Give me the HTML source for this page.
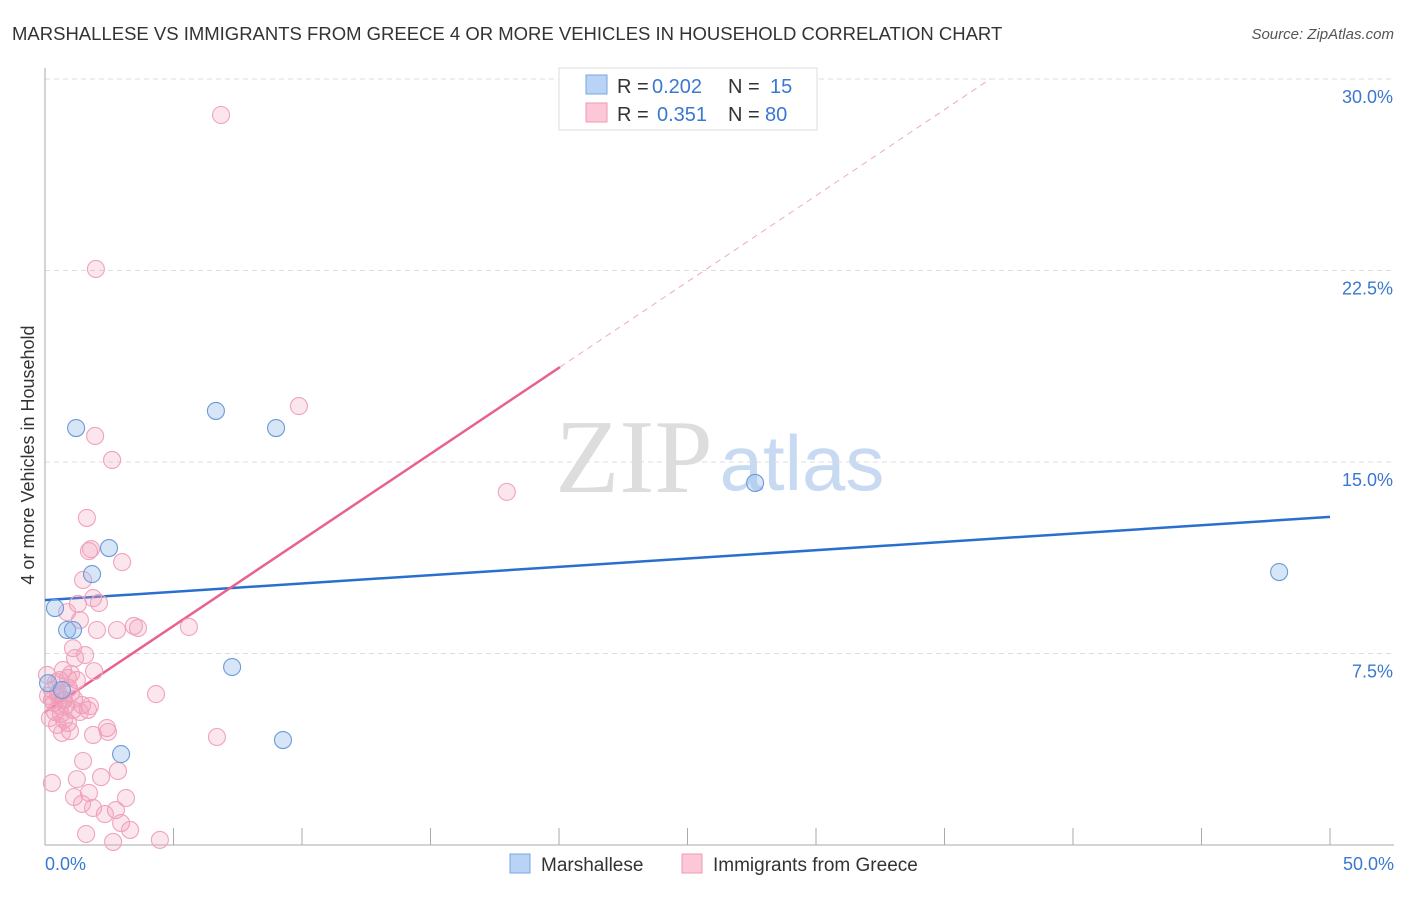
<!DOCTYPE html>
<html><head><meta charset="utf-8"><style>
body{margin:0;background:#fff;font-family:"Liberation Sans",sans-serif}
</style></head><body>
<svg width="1406" height="892" xmlns="http://www.w3.org/2000/svg" font-family="Liberation Sans, sans-serif">
<text x="12" y="40" font-size="18.5" fill="#333">MARSHALLESE VS IMMIGRANTS FROM GREECE 4 OR MORE VEHICLES IN HOUSEHOLD CORRELATION CHART</text>
<text x="1394" y="39" font-size="15" fill="#555" text-anchor="end" font-style="italic">Source: ZipAtlas.com</text>
<g><text x="634" y="492" font-size="105" fill="#ddd" font-family="Liberation Serif, serif" text-anchor="middle">ZIP</text><text x="802" y="490" font-size="78" fill="#c8daf2" text-anchor="middle">atlas</text></g>
<g id="grid"></g><g id="axes"></g><g id="lines"></g><g id="pts"></g>
<text transform="translate(34,455) rotate(-90)" font-size="18" fill="#333" text-anchor="middle">4 or more Vehicles in Household</text>
<g>
<rect x="559" y="68" width="258" height="62" fill="#fff" stroke="#ddd"/>
<rect x="586" y="75" width="21" height="19" fill="#b8d3f5" stroke="#7aa6dc"/>
<rect x="586" y="103" width="21" height="19" fill="#fcc8d7" stroke="#ee9ab5"/>
<g font-size="20" fill="#333">
<text x="617" y="93">R =</text><text x="652" y="93" fill="#3a78d0">0.202</text><text x="728" y="93">N =</text><text x="770" y="93" fill="#3a78d0">15</text>
<text x="617" y="121">R =</text><text x="657" y="121" fill="#3a78d0">0.351</text><text x="728" y="121">N =</text><text x="765" y="121" fill="#3a78d0">80</text>
</g>
</g>
<g>
<rect x="510" y="854" width="20" height="19" fill="#b8d3f5" stroke="#7aa6dc"/>
<text x="541" y="871" font-size="19" fill="#333">Marshallese</text>
<rect x="682" y="854" width="20" height="19" fill="#fcc8d7" stroke="#ee9ab5"/>
<text x="713" y="871" font-size="19" fill="#333">Immigrants from Greece</text>
</g>
</svg>
<script>
const blueX=[1.21,6.65,8.99,27.63,48.02,2.49,1.83,0.39,0.86,1.09,7.28,9.26,2.96,0.12,0.66];
const blueY=[16.33,17.0,16.33,14.18,10.69,11.63,10.61,9.28,8.42,8.42,6.97,4.11,3.56,6.34,6.07];
const pinkX=[6.85,1.98,9.88,1.95,2.61,17.97,1.63,1.71,1.79,3.00,1.48,1.87,2.10,1.28,0.86,1.36,3.62,3.46,2.80,2.02,5.60,1.09,1.56,1.17,0.70,1.91,0.08,0.89,0.58,1.24,0.27,0.51,1.01,0.12,4.32,0.74,0.35,0.82,1.44,1.67,1.09,0.39,0.62,0.19,0.89,0.47,0.97,0.66,2.41,2.45,1.87,6.69,0.27,1.48,2.84,2.18,1.24,1.71,1.13,3.15,1.44,2.76,1.87,2.33,2.96,3.31,1.60,2.65,4.47,0.70,0.58,0.93,0.43,1.13,0.74,1.01,1.75,1.36,0.27,0.54];
const pinkY=[28.59,22.56,17.19,16.02,15.08,13.83,12.81,11.51,11.59,11.08,10.38,9.67,9.48,9.44,9.12,8.81,8.50,8.58,8.42,8.42,8.54,7.71,7.44,7.32,6.85,6.81,6.66,6.54,6.46,6.46,6.07,5.95,5.95,5.84,5.91,5.68,5.56,5.48,5.48,5.29,5.29,5.21,5.13,4.97,4.78,4.70,4.46,4.39,4.58,4.43,4.31,4.23,2.43,3.29,2.90,2.66,2.58,2.04,1.88,1.84,1.61,1.37,1.45,1.21,0.86,0.59,0.43,0.12,0.20,5.68,5.44,6.15,6.38,5.72,4.90,6.70,5.44,5.21,5.68,5.80];
const yTicks=[7.5,15,22.5,30];
const yTickLabels=["7.5%","15.0%","22.5%","30.0%"];
const blueTrend=[9.59,12.85]; // y at x=0 and x=50
const pinkTrend=[5.21,0.674]; // intercept, slope
const NS="http://www.w3.org/2000/svg";
const sx=v=>45+v/50*1285, sy=v=>845-v/30*766;
function mk(t,a,p){const e=document.createElementNS(NS,t);for(const k in a)e.setAttribute(k,a[k]);document.getElementById(p).appendChild(e);return e;}
yTicks.forEach((t,i)=>{
 const l=mk('line',{x1:45,x2:1394,y1:sy(t),y2:sy(t),stroke:'#ddd','stroke-dasharray':'5,4'},'grid');
 
 
 const tx=mk('text',{x:1393,y:sy(t)+24,'font-size':18,fill:'#3a78d0','text-anchor':'end'},'grid');
 tx.textContent=yTickLabels[i];
 
 
});
const ax=mk('line',{x1:45,x2:1394,y1:845,y2:845,stroke:'#aaa'},'axes');


const ay=mk('line',{x1:45,x2:45,y1:68,y2:845,stroke:'#aaa'},'axes');


for(let i=0;i<=10;i++){const t=mk('line',{x1:sx(i*5),x2:sx(i*5),y1:828,y2:845,stroke:'#aaa'},'axes');
 
 }
[[0,"0.0%",'start',45],[50,"50.0%",'end',1394]].forEach(d=>{const t=mk('text',{x:d[3],y:870,'font-size':18,fill:'#3a78d0','text-anchor':d[2]},'axes');t.textContent=d[1];
 
 });
const bl=mk('line',{x1:sx(0),y1:sy(blueTrend[0]),x2:sx(50),y2:sy(blueTrend[1]),stroke:'#2a6fcf','stroke-width':2.5},'lines');


const xs=20.04, xe=(30-pinkTrend[0])/pinkTrend[1];
const pl=mk('line',{x1:sx(0),y1:sy(pinkTrend[0]),x2:sx(xs),y2:sy(pinkTrend[0]+pinkTrend[1]*xs),stroke:'#e8628f','stroke-width':2.5},'lines');


const pd=mk('line',{x1:sx(xs),y1:sy(pinkTrend[0]+pinkTrend[1]*xs),x2:sx(xe),y2:sy(30),stroke:'#eeaac0','stroke-width':1,'stroke-dasharray':'6,5'},'lines');


pinkX.forEach((x,i)=>{const c=mk('circle',{cx:sx(x),cy:sy(pinkY[i]),r:8.5,fill:'rgba(244,150,180,0.24)',stroke:'#efa3bc','stroke-width':1.1},'pts');
 
 });
blueX.forEach((x,i)=>{const c=mk('circle',{cx:sx(x),cy:sy(blueY[i]),r:8.5,fill:'rgba(150,188,235,0.38)',stroke:'#6a9ad8','stroke-width':1.1},'pts');
 
 });
</script>
</body></html>
